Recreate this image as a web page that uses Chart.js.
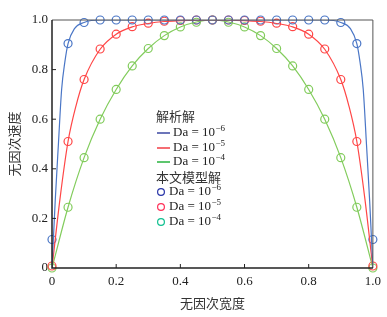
<!DOCTYPE html>
<html>
<head>
<meta charset="utf-8">
<script src="https://cdn.jsdelivr.net/npm/chart.js@4.4.1/dist/chart.umd.min.js"></script>
<style>
  html, body { margin: 0; padding: 0; background: #fff; }
</style>
</head>
<body>
<canvas id="chart" width="387" height="317"></canvas>
<script>
// model (numerical) results, sampled every 0.05
const markerX = [0, 0.05, 0.1, 0.15, 0.2, 0.25, 0.3, 0.35, 0.4, 0.45, 0.5, 0.55, 0.6, 0.65, 0.7, 0.75, 0.8, 0.85, 0.9, 0.95, 1.0];
const modelDa6 = [0.115, 0.905, 0.99, 1, 1, 1, 1, 1, 1, 1, 1, 1, 1, 1, 1, 1, 1, 1, 0.99, 0.905, 0.115];
const modelDa5 = [0.008, 0.51, 0.76, 0.883, 0.943, 0.973, 0.987, 0.995, 0.998, 1, 1, 1, 0.998, 0.995, 0.987, 0.973, 0.943, 0.883, 0.76, 0.51, 0.008];
const modelDa4 = [0, 0.245, 0.445, 0.6, 0.72, 0.815, 0.885, 0.937, 0.972, 0.991, 1, 0.991, 0.972, 0.937, 0.885, 0.815, 0.72, 0.6, 0.445, 0.245, 0];

// analytical solutions
const lineX6 = [0, 0.01, 0.02, 0.03, 0.04, 0.05, 0.07, 0.1, 0.15, 0.5, 0.85, 0.9, 0.93, 0.95, 0.96, 0.97, 0.98, 0.99, 1];
const lineDa6 = [0, 0.27, 0.5, 0.72, 0.83, 0.905, 0.965, 0.99, 1, 1, 1, 0.99, 0.965, 0.905, 0.83, 0.72, 0.5, 0.27, 0];
const lineX5 = [0, 0.025, 0.05, 0.075, 0.1, 0.15, 0.2, 0.25, 0.3, 0.35, 0.4, 0.45, 0.5, 0.55, 0.6, 0.65, 0.7, 0.75, 0.8, 0.85, 0.9, 0.925, 0.95, 0.975, 1];
const lineDa5 = [0, 0.28, 0.51, 0.655, 0.76, 0.882, 0.943, 0.972, 0.986, 0.994, 0.997, 0.999, 1, 0.999, 0.997, 0.994, 0.986, 0.972, 0.943, 0.882, 0.76, 0.655, 0.51, 0.28, 0];
const lineX4 = markerX;
const lineDa4 = [0, 0.245, 0.445, 0.6, 0.72, 0.815, 0.885, 0.937, 0.972, 0.992, 1, 0.992, 0.972, 0.937, 0.885, 0.815, 0.72, 0.6, 0.445, 0.245, 0];

const yTicks = [0, 0.2, 0.4, 0.6, 0.8, 1.0];
const xTicks = [0, 0.2, 0.4, 0.6, 0.8, 1.0];

const blue = '#4a76c6', red = '#ff4646', green = '#82cc5c';

const pts = (xs, ys) => xs.map((x, i) => ({ x: x, y: ys[i] }));

function lineSet(xs, ys, color) {
    return {
        data: pts(xs, ys),
        showLine: true,
        borderColor: color,
        borderWidth: 1.2,
        pointRadius: 0,
        cubicInterpolationMode: 'monotone',
        fill: false,
    };
}

function markerSet(ys, color) {
    return {
        data: pts(markerX, ys),
        showLine: false,
        borderColor: color,
        backgroundColor: 'rgba(0,0,0,0)',
        pointStyle: 'circle',
        pointRadius: 4,
        pointBorderWidth: 1.2,
        clip: false,
    };
}

// inward ticks, frame, legend
const decor = {
    id: 'decor',
    afterDraw(chart) {
        const { ctx, chartArea: a, scales: { x, y } } = chart;
        ctx.save();
        ctx.strokeStyle = '#555';
        ctx.lineWidth = 1;
        ctx.beginPath();
        ctx.moveTo(a.left, a.top);
        ctx.lineTo(a.right, a.top);
        ctx.lineTo(a.right, a.bottom);
        ctx.stroke();
        ctx.strokeStyle = '#222';
        ctx.lineWidth = 1.5;
        ctx.beginPath();
        ctx.moveTo(a.left, a.top);
        ctx.lineTo(a.left, a.bottom);
        ctx.lineTo(a.right, a.bottom);
        ctx.stroke();
        ctx.lineWidth = 1;
        ctx.beginPath();
        xTicks.slice(1, -1).forEach(v => {
            const px = x.getPixelForValue(v);
            ctx.moveTo(px, a.bottom);
            ctx.lineTo(px, a.bottom - 4);
        });
        yTicks.slice(1, -1).forEach(v => {
            const py = y.getPixelForValue(v);
            ctx.moveTo(a.left, py);
            ctx.lineTo(a.left + 4, py);
        });
        ctx.stroke();

        // legend
        const lx = 156;
        const cjk = '13px "Noto Sans CJK SC"';
        const serif = '13px "Liberation Serif"';
        const sup = '9px "Liberation Serif"';
        ctx.textBaseline = 'middle';
        ctx.textAlign = 'left';
        const label = (tx, ty, exp) => {
            ctx.fillStyle = '#222';
            ctx.font = serif;
            const base = 'Da = 10';
            ctx.fillText(base, tx, ty);
            const w = ctx.measureText(base).width;
            ctx.font = sup;
            ctx.fillText('\u2212' + exp, tx + w + 0.5, ty - 4);
        };
        ctx.fillStyle = '#333';
        ctx.font = cjk;
        ctx.fillText('解析解', lx, 116);
        const lineKeys = [['#1c2a94', '6', 133], ['#f01e28', '5', 148], ['#06a820', '4', 162]];
        lineKeys.forEach(([c, e, ty]) => {
            ctx.strokeStyle = c;
            ctx.lineWidth = 1.3;
            ctx.beginPath();
            ctx.moveTo(lx + 1, ty);
            ctx.lineTo(lx + 14, ty);
            ctx.stroke();
            label(lx + 17, ty, e);
        });
        ctx.fillStyle = '#333';
        ctx.font = cjk;
        ctx.fillText('本文模型解', lx, 177);
        const markKeys = [['#2834a8', '6', 192], ['#ff3058', '5', 207], ['#10c090', '4', 222]];
        markKeys.forEach(([c, e, ty]) => {
            ctx.strokeStyle = c;
            ctx.lineWidth = 1.2;
            ctx.beginPath();
            ctx.arc(lx + 5, ty, 3.4, 0, Math.PI * 2);
            ctx.stroke();
            label(lx + 13, ty, e);
        });
        ctx.restore();
    },
};

const fmt = v => (v === 0 ? '0' : v.toFixed(1));

new Chart(document.getElementById('chart'), {
    type: 'scatter',
    data: {
        datasets: [
            lineSet(lineX6, lineDa6, blue),
            lineSet(lineX5, lineDa5, red),
            lineSet(lineX4, lineDa4, green),
            markerSet(modelDa6, blue),
            markerSet(modelDa5, red),
            markerSet(modelDa4, green),
        ],
    },
    options: {
        responsive: false,
        animation: false,
        devicePixelRatio: 1,
        layout: { padding: { top: 20, right: 13, left: 0, bottom: 0 } },
        plugins: { legend: { display: false }, tooltip: { enabled: false } },
        scales: {
            x: {
                type: 'linear',
                min: 0,
                max: 1,
                afterFit: s => { s.height = 49; },
                afterBuildTicks: s => { s.ticks = xTicks.map(v => ({ value: v })); },
                grid: { display: false, drawTicks: false },
                border: { display: false },
                ticks: {
                    callback: fmt,
                    padding: 6,
                    maxRotation: 0,
                    color: '#222',
                    font: { family: 'Liberation Serif', size: 13 },
                },
                title: {
                    display: true,
                    text: '无因次宽度',
                    color: '#333',
                    padding: { top: 0, bottom: 6 },
                    font: { family: 'Noto Sans CJK SC', size: 13 },
                },
            },
            y: {
                type: 'linear',
                min: 0,
                max: 1,
                afterFit: s => { s.width = 52; },
                afterBuildTicks: s => { s.ticks = yTicks.map(v => ({ value: v })); },
                grid: { display: false, drawTicks: false },
                border: { display: false },
                ticks: {
                    callback: fmt,
                    padding: 4,
                    color: '#222',
                    font: { family: 'Liberation Serif', size: 13 },
                },
                title: {
                    display: true,
                    text: '无因次速度',
                    color: '#333',
                    padding: { top: 6, bottom: 0 },
                    font: { family: 'Noto Sans CJK SC', size: 13 },
                },
            },
        },
    },
    plugins: [decor],
});
</script>
</body>
</html>
